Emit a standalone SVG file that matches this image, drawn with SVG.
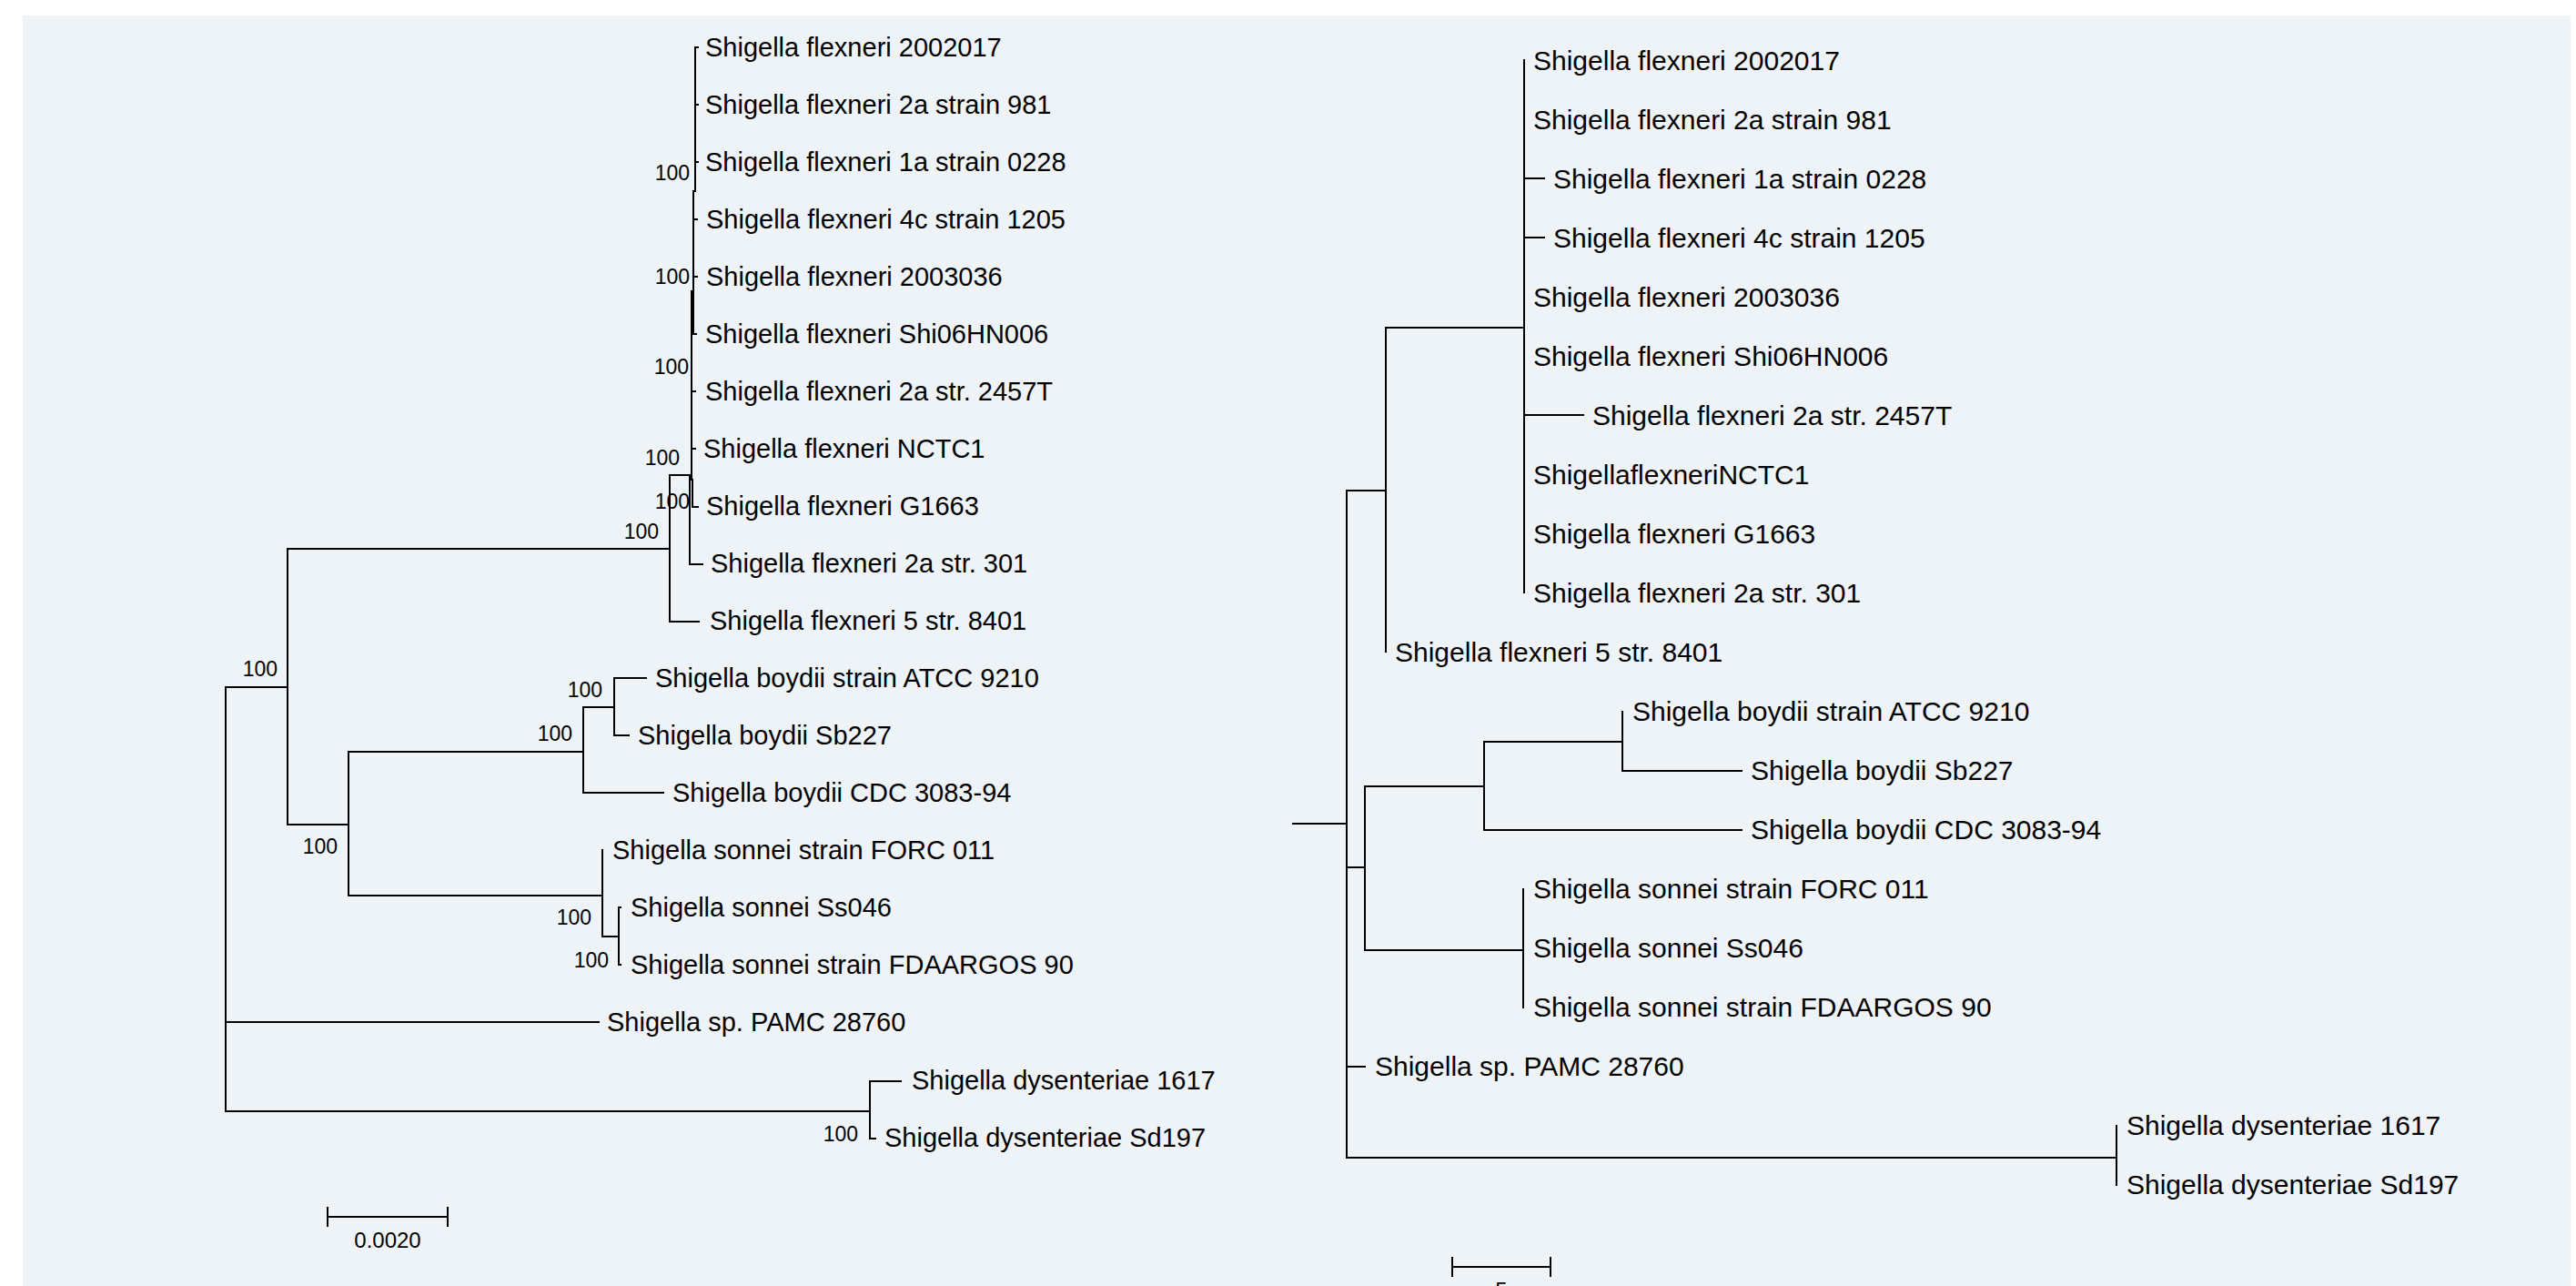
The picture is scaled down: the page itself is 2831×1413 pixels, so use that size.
<svg xmlns="http://www.w3.org/2000/svg" width="2831" height="1413" viewBox="0 0 2831 1413">
<style>
.br{stroke:#000;stroke-width:2;fill:none;stroke-linecap:square}
text{font-family:"Liberation Sans",Arial,sans-serif;fill:#000}
.tl{font-size:29px}
.tr{font-size:30px}
.bs{font-size:23px;text-anchor:end}
.sc{font-size:24px;text-anchor:middle}
</style>
<rect width="2831" height="1413" fill="#ffffff"/>
<rect x="25" y="17" width="2800" height="1396" fill="#eef3f7"/>

<g id="connectors">
<g id="left-connectors" class="br">
<path d="M248,755 V1221 M248,755 H316 M248,1123 H658 M248,1221 H956"/>
<path d="M316,603 V906 M316,603 H736 M316,906 H383"/>
<path d="M736,522 V683 M736,683 H768 M736,522 H760"/>
<path d="M758,522 V620 H772"/>
<path d="M764,52 V210 M764,52 H767 M764,115 H767 M764,178 H767"/>
<path d="M762,210 V367 M762,241 H766 M762,304 H766 M762,367 H765"/>
<path d="M760,320 V527 M760,430 H764 M760,493 H764"/>
<path d="M761,527 V557 H767"/>
<path d="M383,826 V984 M383,826 H641 M383,984 H662"/>
<path d="M641,777 V871 M641,777 H675 M641,871 H729"/>
<path d="M675,745 V808 M675,745 H710 M675,808 H691"/>
<path d="M662,934 V1029 M662,1029 H680"/>
<path d="M680,997 V1060 M680,997 H682 M680,1060 H682"/>
<path d="M956,1188 V1251 M956,1188 H990 M956,1251 H962"/>
</g>
<g id="right-connectors" class="br">
<path d="M1421,905 H1480 M1480,539 V1272"/>
<path d="M1480,539 H1523 M1523,360 V716"/>
<path d="M1523,360 H1675 M1675,66 V651 M1675,196 H1697 M1675,261 H1697 M1675,456 H1740"/>
<path d="M1480,953 H1500 M1500,864 V1044"/>
<path d="M1500,864 H1631 M1631,815 V912 M1631,912 H1914"/>
<path d="M1631,815 H1783 M1783,782 V847 M1783,847 H1914"/>
<path d="M1500,1044 H1674 M1674,977 V1107"/>
<path d="M1480,1172 H1500"/>
<path d="M1480,1272 H2326 M2326,1237 V1302"/>
</g>
</g>

<g id="left-tree">
<g id="L0"><text class="tl" x="775" y="62">Shigella flexneri 2002017</text></g>
<g id="L1"><text class="tl" x="775" y="125">Shigella flexneri 2a strain 981</text></g>
<g id="L2"><text class="tl" x="775" y="188">Shigella flexneri 1a strain 0228</text></g>
<g id="L3"><text class="tl" x="776" y="251">Shigella flexneri 4c strain 1205</text></g>
<g id="L4"><text class="tl" x="776" y="314">Shigella flexneri 2003036</text></g>
<g id="L5"><text class="tl" x="775" y="377">Shigella flexneri Shi06HN006</text></g>
<g id="L6"><text class="tl" x="775" y="440">Shigella flexneri 2a str. 2457T</text></g>
<g id="L7"><text class="tl" x="773" y="503">Shigella flexneri NCTC1</text></g>
<g id="L8"><text class="tl" x="776" y="566">Shigella flexneri G1663</text></g>
<g id="L9"><text class="tl" x="781" y="629">Shigella flexneri 2a str. 301</text></g>
<g id="L10"><text class="tl" x="780" y="692">Shigella flexneri 5 str. 8401</text></g>
<g id="L11"><text class="tl" x="720" y="755">Shigella boydii strain ATCC 9210</text></g>
<g id="L12"><text class="tl" x="701" y="818">Shigella boydii Sb227</text></g>
<g id="L13"><text class="tl" x="739" y="881">Shigella boydii CDC 3083-94</text></g>
<g id="L14"><text class="tl" x="673" y="944">Shigella sonnei strain FORC 011</text></g>
<g id="L15"><text class="tl" x="693" y="1007">Shigella sonnei Ss046</text></g>
<g id="L16"><text class="tl" x="693" y="1070">Shigella sonnei strain FDAARGOS 90</text></g>
<g id="L17"><text class="tl" x="667" y="1133">Shigella sp. PAMC 28760</text></g>
<g id="L18"><text class="tl" x="1002" y="1197">Shigella dysenteriae 1617</text></g>
<g id="L19"><text class="tl" x="972" y="1260">Shigella dysenteriae Sd197</text></g>

<g id="LB1"><text class="bs" x="758" y="198">100</text></g>
<g id="LB2"><text class="bs" x="758" y="312">100</text></g>
<g id="LB3"><text class="bs" x="757" y="411">100</text></g>
<g id="LB4"><text class="bs" x="747" y="511">100</text></g>
<g id="LB5"><text class="bs" x="758" y="559">100</text></g>
<g id="LB6"><text class="bs" x="724" y="592">100</text></g>
<g id="LB7"><text class="bs" x="305" y="743">100</text></g>
<g id="LB8"><text class="bs" x="662" y="766">100</text></g>
<g id="LB9"><text class="bs" x="629" y="814">100</text></g>
<g id="LB10"><text class="bs" x="371" y="938">100</text></g>
<g id="LB11"><text class="bs" x="650" y="1016">100</text></g>
<g id="LB12"><text class="bs" x="669" y="1063">100</text></g>
<g id="LB13"><text class="bs" x="943" y="1254">100</text></g>

<g id="left-scale">
<path class="br" d="M360,1337 H492 M360,1327 V1347 M492,1327 V1347"/>
<text class="sc" x="426" y="1371">0.0020</text>
</g>
</g>

<g id="right-tree">
<g id="R0"><text class="tr" x="1685" y="77">Shigella flexneri 2002017</text></g>
<g id="R1"><text class="tr" x="1685" y="142">Shigella flexneri 2a strain 981</text></g>
<g id="R2"><text class="tr" x="1707" y="207">Shigella flexneri 1a strain 0228</text></g>
<g id="R3"><text class="tr" x="1707" y="272">Shigella flexneri 4c strain 1205</text></g>
<g id="R4"><text class="tr" x="1685" y="337">Shigella flexneri 2003036</text></g>
<g id="R5"><text class="tr" x="1685" y="402">Shigella flexneri Shi06HN006</text></g>
<g id="R6"><text class="tr" x="1750" y="467">Shigella flexneri 2a str. 2457T</text></g>
<g id="R7"><text class="tr" x="1685" y="532">ShigellaflexneriNCTC1</text></g>
<g id="R8"><text class="tr" x="1685" y="597">Shigella flexneri G1663</text></g>
<g id="R9"><text class="tr" x="1685" y="662">Shigella flexneri 2a str. 301</text></g>
<g id="R10"><text class="tr" x="1533" y="727">Shigella flexneri 5 str. 8401</text></g>
<g id="R11"><text class="tr" x="1794" y="792">Shigella boydii strain ATCC 9210</text></g>
<g id="R12"><text class="tr" x="1924" y="857">Shigella boydii Sb227</text></g>
<g id="R13"><text class="tr" x="1924" y="922">Shigella boydii CDC 3083-94</text></g>
<g id="R14"><text class="tr" x="1685" y="987">Shigella sonnei strain FORC 011</text></g>
<g id="R15"><text class="tr" x="1685" y="1052">Shigella sonnei Ss046</text></g>
<g id="R16"><text class="tr" x="1685" y="1117">Shigella sonnei strain FDAARGOS 90</text></g>
<g id="R17"><text class="tr" x="1511" y="1182">Shigella sp. PAMC 28760</text></g>
<g id="R18"><text class="tr" x="2337" y="1247">Shigella dysenteriae 1617</text></g>
<g id="R19"><text class="tr" x="2337" y="1312">Shigella dysenteriae Sd197</text></g>

<g id="right-scale">
<path class="br" d="M1596,1392 H1704 M1596,1382 V1402 M1704,1382 V1402"/>
<text class="sc" x="1650" y="1426">5</text>
</g>
</g>
</svg>
